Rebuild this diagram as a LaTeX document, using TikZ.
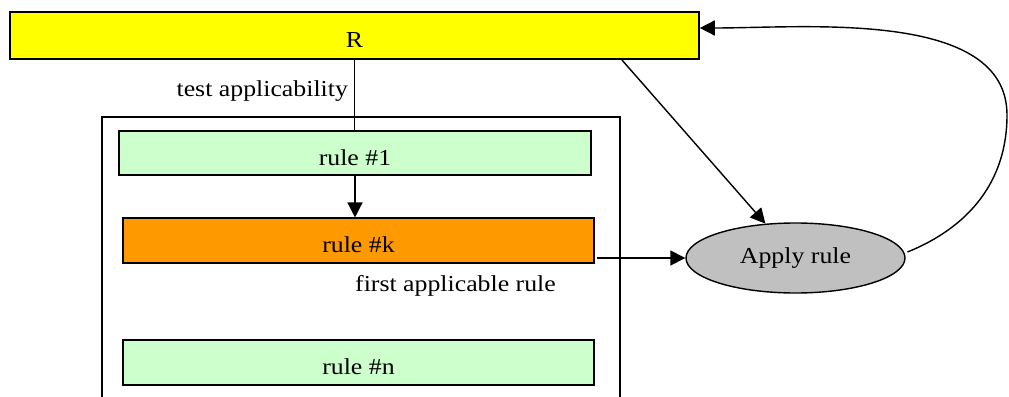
\documentclass[tikz,border=0pt]{standalone}
\usepackage{fontspec}
\setmainfont{Liberation Serif}[FakeStretch=1.13]
\usetikzlibrary{positioning,shapes.geometric,arrows.meta}
\definecolor{setyellow}{HTML}{FFFF00}
\definecolor{rulegreen}{HTML}{CCFFCC}
\definecolor{ruleorange}{HTML}{FF9900}
\definecolor{actiongray}{HTML}{C0C0C0}
\tikzset{node distance=1cm, font=\fontsize{13}{15}\selectfont,
	rulebox/.style={draw,rectangle,line width=0.9pt,minimum width=9.43cm,minimum height=0.89cm,text height=14.2pt,text depth=0pt},
	setbox/.style={draw,rectangle,line width=0.9pt,fill=setyellow,minimum width=13.78cm,minimum height=0.95cm,text height=14.2pt,text depth=0pt},
	action/.style={draw,ellipse,line width=0.8pt,fill=actiongray,minimum width=4.38cm,minimum height=1.4cm},
	link/.style={line width=0.8pt,-{Triangle[length=0.3cm,width=0.3cm]}}}
\begin{document}
\begin{tikzpicture}
				\useasboundingbox (0,0) rectangle (20.18,-7.94);
				\node[setbox] (R) at (7.09,-0.71) {R};
				\node[rulebox,fill=rulegreen] (r1) at (7.10,-3.06) {rule \#1};
				\node[rulebox,fill=ruleorange] (rk) at (7.17,-4.81) {rule \#k};
				\node[rulebox,fill=rulegreen] (rn) at (7.17,-7.25) {rule \#n};
				\node[action] (apply) at (15.91,-5.16) {Apply rule};
				\node (first) at (9.11,-5.71) {first applicable rule};
				\coordinate (kout) at (11.94,-5.16);
				\coordinate (loop) at (20.14,-2.30);

				% box around the rule list
				\draw[line width=0.8pt] (2.04,-8.1) |- (12.40,-2.34) -- (12.40,-8.1);

				\draw[line width=0.8pt] (R.south) -- node[left,pos=0.45] {test applicability} (R.south |- r1.north);
				\draw[link] (r1.south) -- (r1.south |- rk.north);
				\draw[link] (kout) -- (apply);
				\draw[link] ([xshift=5.35cm]R.south) -- (apply);
				\draw[link] ([xshift=1pt,yshift=0.12cm]apply.east) to[out=22,in=-90] (loop) to[out=90,in=0,looseness=0.85] ([yshift=0.15cm]R.east);

			\end{tikzpicture}
\end{document}
